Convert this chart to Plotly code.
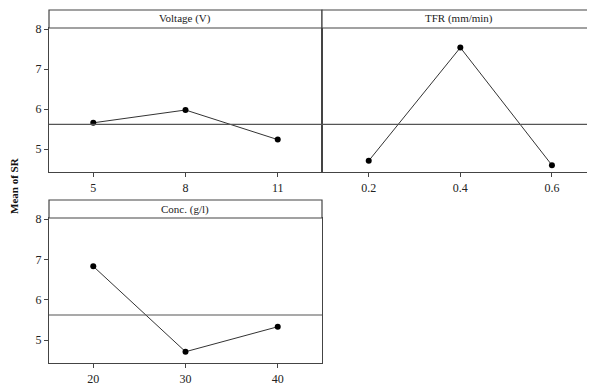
import plotly.graph_objects as go

# ---- data ----
voltage_levels = ["5", "8", "11"]
voltage_means = [5.66, 5.98, 5.24]
tfr_levels = ["0.2", "0.4", "0.6"]
tfr_means = [4.71, 7.54, 4.60]
conc_levels = ["20", "30", "40"]
conc_means = [6.83, 4.71, 5.33]
panel_titles = ["Voltage (V)", "TFR (mm/min)", "Conc. (g/l)"]
y_ticks = [5, 6, 7, 8]
y_title = "Mean of SR"

OFF = 8  # default page body margin
W, H = 595 - OFF, 385 - OFF
def px(x):
    return (x - OFF) / W
def py(y):
    return 1 - (y - OFF) / H

FONT = "Liberation Serif, Times New Roman, serif"
LINE_C = "#444444"

all_vals = voltage_means + tfr_means + conc_means
grand_mean = sum(all_vals) / len(all_vals)

fig = go.Figure()

panels = [
    (voltage_levels, voltage_means, "x", "y"),
    (tfr_levels, tfr_means, "x2", "y2"),
    (conc_levels, conc_means, "x3", "y3"),
]
for levels, vals, xa, ya in panels:
    fig.add_trace(go.Scatter(
        x=list(range(len(levels))), y=vals, xaxis=xa, yaxis=ya,
        mode="lines+markers",
        line=dict(color="#333333", width=1),
        marker=dict(color="black", size=6),
        showlegend=False, hoverinfo="skip", cliponaxis=False))

yrange = [4.43, 8.03]
xr1 = [-0.48, 2.48]
xr2 = [-0.51, 2.47]

def xax(domain, levels, rng, mirror, anchor):
    return dict(domain=domain, range=rng, tickvals=list(range(len(levels))),
                ticktext=levels, showgrid=False, zeroline=False,
                showline=True, linecolor=LINE_C, linewidth=1.2, mirror=mirror,
                ticks="outside", ticklen=4, tickcolor=LINE_C, automargin=False,
                tickfont=dict(family=FONT, size=12, color="#222"), anchor=anchor)

def yax(domain, labels, mirror, anchor):
    d = dict(domain=domain, range=yrange, tickvals=y_ticks, showgrid=False,
             zeroline=False, showline=True, linecolor=LINE_C, linewidth=1.2,
             mirror=mirror, anchor=anchor, automargin=False,
             tickfont=dict(family=FONT, size=12, color="#222"))
    if labels:
        d.update(ticks="outside", ticklen=4, tickcolor=LINE_C, showticklabels=True)
    else:
        d.update(ticks="", showticklabels=False)
    return d

top_dom = [py(172), py(28)]
bot_dom = [py(363), py(218)]

fig.update_layout(
    width=W, height=H, margin=dict(l=0, r=0, t=0, b=0, autoexpand=False),
    paper_bgcolor="white", plot_bgcolor="white",
    xaxis=xax([px(49), px(322)], voltage_levels, xr1, True, "y"),
    yaxis=yax(top_dom, True, True, "x"),
    xaxis2=xax([px(322), 1.0], tfr_levels, xr2, False, "y2"),
    yaxis2=yax(top_dom, False, False, "x2"),
    xaxis3=xax([px(49), px(322)], conc_levels, xr1, True, "y3"),
    yaxis3=yax(bot_dom, True, True, "x3"),
)

# grand-mean reference lines
for xa, ya in [("x", "y"), ("x2", "y2"), ("x3", "y3")]:
    fig.add_shape(type="line", xref=f"{xa} domain", yref=ya, x0=0, x1=1,
                  y0=grand_mean, y1=grand_mean,
                  line=dict(color="#555555", width=1.2))

# strips
strips = [
    (px(49), px(322), py(28), py(10), panel_titles[0]),
    (px(322), 1.0, py(28), py(10), panel_titles[1]),
    (px(49), px(322), py(218), py(200), panel_titles[2]),
]
for x0, x1, y0, y1, t in strips:
    fig.add_shape(type="rect", xref="paper", yref="paper", x0=x0, x1=x1,
                  y0=y0, y1=y1, line=dict(color=LINE_C, width=1.2),
                  fillcolor="white")
    fig.add_annotation(xref="paper", yref="paper", x=(x0 + x1) / 2,
                       y=(y0 + y1) / 2, text=t, showarrow=False,
                       xanchor="center", yanchor="middle",
                       font=dict(family=FONT, size=11, color="#222"))

fig.add_annotation(xref="paper", yref="paper", x=px(14), y=py(186),
                   text=f"<b>{y_title}</b>", showarrow=False, textangle=-90,
                   xanchor="center", yanchor="middle",
                   font=dict(family=FONT, size=11, color="#111"))

fig.write_html("out.html")
